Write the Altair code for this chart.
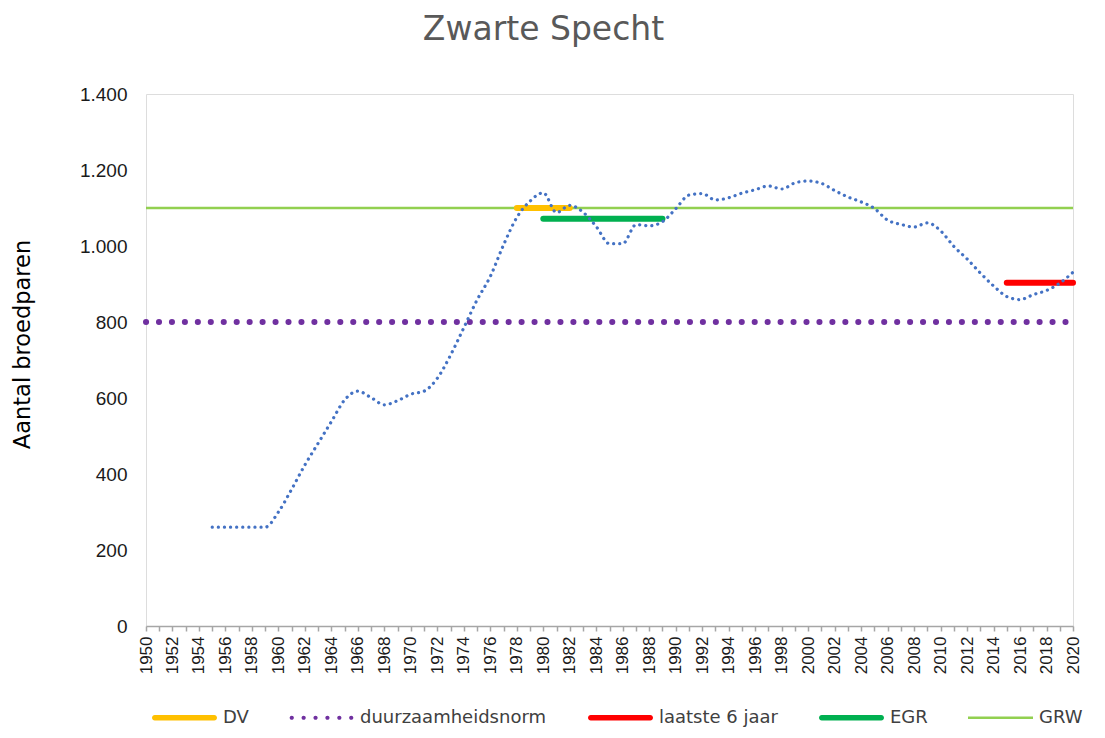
import altair as alt
import pandas as pd

# ---- data ----
years = list(range(1955, 2021))
broedparen = [260, 260, 260, 260, 260, 300, 360, 424, 481, 538,
              595, 618, 601, 582, 593, 610, 618, 652, 713, 785,
              858, 920, 1003, 1075, 1118, 1140, 1088, 1107, 1089, 1051,
              1006, 1006, 1056, 1053, 1064, 1098, 1134, 1138, 1121, 1127,
              1139, 1148, 1158, 1150, 1166, 1171, 1165, 1146, 1129, 1116,
              1099, 1068, 1057, 1050, 1061, 1040, 999, 966, 929, 895,
              867, 859, 872, 883, 902, 931]

ref_names = ["DV", "duurzaamheidsnorm", "laatste 6 jaar", "EGR", "GRW"]
ref_start = [1978, 1950, 2015, 1980, 1950]
ref_end = [1982, 2020, 2020, 1989, 2020]
ref_value = [1100, 800, 903, 1072, 1100]
ref_colors = ["#FFC000", "#7030A0", "#FF0000", "#00B050", "#92D050"]

y_ticks = [0, 200, 400, 600, 800, 1000, 1200, 1400]
x_ticks = list(range(1950, 2021))

# ---- tables ----
blue_df = pd.DataFrame({"year": years, "value": broedparen})
rows = []
for n, s, e, v in zip(ref_names, ref_start, ref_end, ref_value):
    rows.append({"series": n, "year": s, "value": v})
    rows.append({"series": n, "year": e, "value": v})
ref_df = pd.DataFrame(rows)

FONT = "DejaVu Sans"
TICKFONT = "Liberation Sans"

x_enc = alt.X("year:Q", scale=alt.Scale(domain=[1950, 2020], nice=False, zero=False),
              axis=alt.Axis(values=x_ticks, title=None, grid=False,
                            labelExpr="datum.value % 2 == 0 ? format(datum.value, 'd') : ''",
                            labelAngle=270, labelAlign="right", labelBaseline="middle",
                            labelFont=TICKFONT, labelFontSize=17, labelColor="#1a1a1a",
                            labelPadding=5, labelOverlap=False, labelFlush=False,
                            tickSize=5, tickColor="#A6A6A6", tickWidth=1.5,
                            domainColor="#A6A6A6", domainWidth=1.5))
y_enc = alt.Y("value:Q", scale=alt.Scale(domain=[0, 1400], nice=False),
              axis=alt.Axis(values=y_ticks, title="Aantal broedparen", grid=False,
                            labelExpr="replace(format(datum.value, ','), ',', '.')",
                            labelFont=TICKFONT, labelFontSize=19, labelColor="#1a1a1a",
                            labelPadding=19, ticks=False, tickSize=0, domain=False,
                            titleFont=FONT, titleFontSize=22.5, titleFontWeight="normal",
                            titleColor="#000000", titleX=-124, titleY=250,
                            titleAngle=270, titleBaseline="middle", titleAlign="center"))

base_ref = alt.Chart(ref_df)


def ref_layer(name, **mark):
    return base_ref.transform_filter(alt.datum.series == name).mark_line(**mark).encode(
        x=x_enc, y=y_enc)


grw = ref_layer("GRW", color="#92D050", strokeWidth=2.5)
norm = ref_layer("duurzaamheidsnorm", color="#7030A0", strokeWidth=6,
                 strokeCap="round", strokeDash=[0.1, 12.85])
dv = ref_layer("DV", color="#FFC000", strokeWidth=6, strokeCap="round")
egr = ref_layer("EGR", color="#00B050", strokeWidth=6, strokeCap="round")
last6 = ref_layer("laatste 6 jaar", color="#FF0000", strokeWidth=6, strokeCap="round")

blue = alt.Chart(blue_df).mark_line(color="#4472C4", strokeWidth=3.2, strokeCap="round",
                                    strokeDash=[0.1, 6.0], interpolate="monotone").encode(
    x=x_enc, y=y_enc)


# ---- legend symbols (custom paths, unit square) ----
def bar_path(h):
    a = 1 - h
    return (f"M-{a},-{h} L{a},-{h} A{h},{h} 0 0 1 {a},{h} "
            f"L-{a},{h} A{h},{h} 0 0 1 -{a},-{h} Z")


def dots_path(n, r):
    step = 2 * (1 - r - 0.02) / (n - 1)
    parts = []
    for i in range(n):
        cx = -(1 - r - 0.02) + i * step
        parts.append(f"M{cx - r:.4f},0 A{r},{r} 0 1 0 {cx + r:.4f},0 "
                     f"A{r},{r} 0 1 0 {cx - r:.4f},0 Z")
    return " ".join(parts)


thin = "M-1,-0.04 L1,-0.04 L1,0.04 L-1,0.04 Z"
paths = [bar_path(0.085), dots_path(6, 0.065), bar_path(0.085), bar_path(0.085), thin]

leg = alt.Legend(title=None, orient="none", legendX=6, legendY=591, direction="horizontal",
                 columns=5, symbolSize=4225, symbolStrokeWidth=0, symbolOpacity=1,
                 labelFont=FONT, labelFontSize=18, labelColor="#404040", labelLimit=400,
                 labelOffset=6, columnPadding=40)

legend_layer = alt.Chart(ref_df).transform_filter("false").mark_point(
    filled=True, opacity=1).encode(
    x=x_enc, y=y_enc,
    color=alt.Color("series:N", scale=alt.Scale(domain=ref_names, range=ref_colors),
                    legend=leg, sort=ref_names),
    shape=alt.Shape("series:N", scale=alt.Scale(domain=ref_names, range=paths),
                    legend=leg, sort=ref_names))

chart = alt.layer(grw, norm, dv, egr, last6, blue, legend_layer).properties(
    width=927, height=532,
    title=alt.Title("Zwarte Specht", font=FONT, fontSize=33, fontWeight="normal",
                    color="#595959", anchor="middle", dx=-66, offset=38),
    padding={"left": 138, "top": 86, "right": 24, "bottom": 102},
    autosize=alt.AutoSizeParams(type="none"),
).configure_view(stroke="#A6A6A6", strokeWidth=1.5).configure(background="white")

chart.save("out.html", embed_options={"renderer": "svg", "actions": False})
